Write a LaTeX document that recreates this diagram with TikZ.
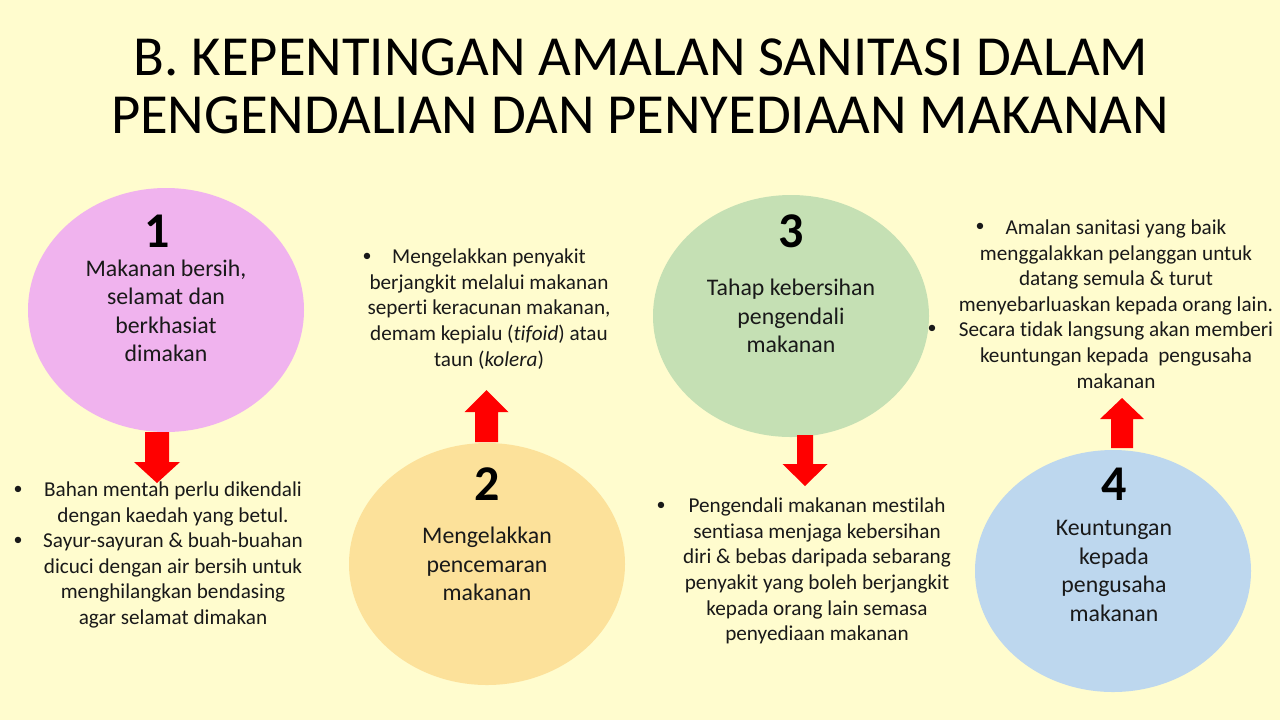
\documentclass[tikz,border=0pt]{standalone}
\usepackage{fontspec}
\setmainfont{Carlito}[Ligatures=NoCommon]
\usetikzlibrary{shapes.geometric}

\definecolor{bgyellow}{RGB}{255,252,206}
\definecolor{pinkdisc}{RGB}{240,179,238}
\definecolor{golddisc}{RGB}{252,225,154}
\definecolor{greendisc}{RGB}{197,224,180}
\definecolor{bluedisc}{RGB}{189,215,238}
\definecolor{inktext}{RGB}{25,25,25}
\definecolor{arrowred}{RGB}{255,0,0}

\tikzset{
	disc/.style={ellipse, inner sep=0pt, minimum width=138pt, minimum height=121pt},
	titletext/.style={font=\fontsize{28.3}{28.3}\selectfont, text=black, inner sep=0pt},
	numtext/.style={font=\fontsize{25}{25}\selectfont\bfseries, text=black, inner sep=0pt},
	disctext/.style={font=\fontsize{11.9}{14.25}\selectfont, text=inktext, align=center, inner sep=0pt},
	notetext/.style={font=\fontsize{10.6}{12.8}\selectfont, text=inktext, align=center, inner sep=0pt},
	bullet/.style={font=\fontsize{9}{12.8}\selectfont, text=inktext, inner sep=0pt},
	redarrow/.style={fill=arrowred}
}

% block arrow: centre x, shaft half width, head half width, shaft end y, head base y, tip y
\newcommand{\blockarrow}[6]{%
	\fill[redarrow] (#1-#2,#4) -- (#1+#2,#4) -- (#1+#2,#5) -- (#1+#3,#5)
		-- (#1,#6) -- (#1-#3,#5) -- (#1-#2,#5) -- cycle;}

\begin{document}
\begin{tikzpicture}[x=0.5pt, y=-0.5pt]
	
	% Background
	\fill[bgyellow] (0,0) rectangle (1280,720);
	
	% Title
	\node[titletext, anchor=base] (title1) at (641,75) {B. KEPENTINGAN AMALAN SANITASI DALAM};
	\node[titletext, anchor=base] (title2) at (640,133) {PENGENDALIAN DAN PENYEDIAAN MAKANAN};
	
	% Discs
	\node[disc, fill=pinkdisc, minimum height=122pt] (disc1) at (166,310) {};
	\node[disc, fill=golddisc] (disc2) at (487,564) {};
	\node[disc, fill=greendisc] (disc3) at (791,316) {};
	\node[disc, fill=bluedisc] (disc4) at (1113,571) {};
	
	% Numbers
	\node[numtext, anchor=base] (num1) at (157,247) {1};
	\node[numtext, anchor=base] (num2) at (487,500) {2};
	\node[numtext, anchor=base] (num3) at (791,247) {3};
	\node[numtext, anchor=base] (num4) at (1114,500) {4};
	
	% Disc labels
	\node[disctext] (label1) at (166,311) {Makanan bersih,\\selamat dan\\berkhasiat\\dimakan};
	\node[disctext] (label2) at (487,564) {Mengelakkan\\pencemaran\\makanan};
	\node[disctext] (label3) at (791,316) {Tahap kebersihan\\pengendali\\makanan};
	\node[disctext] (label4) at (1114,571) {Keuntungan\\kepada\\pengusaha\\makanan};
	
	% Notes
	\node[notetext] (note1) at (173,555) {Bahan mentah perlu dikendali\\dengan kaedah yang betul.\\Sayur-sayuran \& buah-buahan\\dicuci dengan air bersih untuk\\menghilangkan bendasing\\agar selamat dimakan};
	\node[notetext] (note2) at (489,309) {Mengelakkan penyakit\\berjangkit melalui makanan\\seperti keracunan makanan,\\demam kepialu (\textit{tifoid}) atau\\taun (\textit{kolera})};
	\node[notetext] (note3) at (817,571) {Pengendali makanan mestilah\\sentiasa menjaga kebersihan\\diri \& bebas daripada sebarang\\penyakit yang boleh berjangkit\\kepada orang lain semasa\\penyediaan makanan};
	\node[notetext] (note4) at (1116,304) {Amalan sanitasi yang baik\\menggalakkan pelanggan untuk\\datang semula \& turut\\menyebarluaskan kepada orang lain.\\Secara tidak langsung akan memberi\\keuntungan kepada \ pengusaha\\makanan};
	
	% Bullets
	\node[bullet] (dot1a) at (18,490) {•};
	\node[bullet] (dot1b) at (18,541) {•};
	\node[bullet] (dot2) at (367,257) {•};
	\node[bullet] (dot3) at (661,506) {•};
	\node[bullet] (dot4a) at (980,227) {•};
	\node[bullet] (dot4b) at (932,329) {•};
	
	% Arrows
	\blockarrow{157}{12}{23}{432}{462}{483}
	\blockarrow{486.5}{11.5}{22}{442}{412}{390}
	\blockarrow{805}{8}{22.5}{435}{464}{486}
	\blockarrow{1122}{11}{22}{448}{419}{398}
\end{tikzpicture}
\end{document}
